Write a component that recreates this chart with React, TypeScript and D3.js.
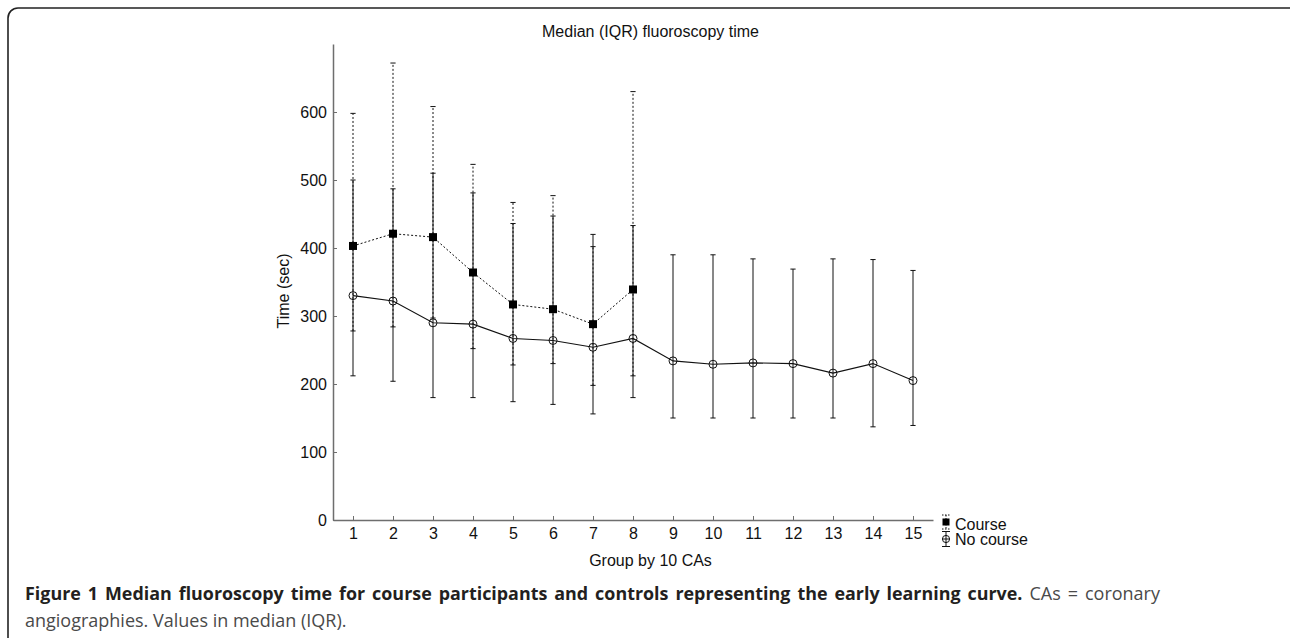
import React, { useEffect, useRef } from 'react';
import * as d3 from 'd3';

// group index (by 10 coronary angiographies)
const groups = [1, 2, 3, 4, 5, 6, 7, 8, 9, 10, 11, 12, 13, 14, 15];

// Course participants (groups 1-8)
const courseMedian = [403, 421, 416, 364, 317, 310, 288, 339];
const courseQ1 = [278, 284, 297, 252, 228, 230, 198, 212];
const courseQ3 = [598, 672, 608, 523, 467, 477, 402, 630];

// Controls (no course)
const noCourseMedian = [330, 322, 290, 288, 267, 264, 254, 267, 234, 229, 231, 230, 216, 230, 205];
const noCourseQ1 = [212, 204, 180, 180, 174, 170, 156, 180, 150, 150, 150, 150, 150, 137, 139];
const noCourseQ3 = [500, 487, 510, 481, 436, 447, 420, 433, 390, 390, 384, 369, 384, 383, 367];

const yTicks = [0, 100, 200, 300, 400, 500, 600];
const legendLabels = ['Course', 'No course'];

const chartTitle = 'Median (IQR) fluoroscopy time';
const yLabel = 'Time (sec)';
const xLabel = 'Group by 10 CAs';
const captionBold = 'Figure 1 Median fluoroscopy time for course participants and controls representing the early learning curve.';
const captionRest1 = ' CAs = coronary';
const captionRest2 = 'angiographies. Values in median (IQR).';

const W = 1290;
const H = 638;

const App = () => {
  const svgRef = useRef<SVGSVGElement>(null);

  useEffect(() => {
    const svg = d3.select(svgRef.current);
    svg.selectAll('*').remove();

    const font = '"Liberation Sans", Arial, sans-serif';
    const axisColor = '#6e6e6e';
    const ink = '#111';

    // figure frame (right and bottom edges fall outside the picture)
    svg.append('rect')
      .attr('x', 8).attr('y', 8)
      .attr('width', 1300).attr('height', 700)
      .attr('rx', 10)
      .attr('fill', 'none')
      .attr('stroke', '#222')
      .attr('stroke-width', 1.6);

    // scales
    const x = d3.scaleLinear().domain([0.5, 15.5]).range([333, 933]);
    const y = d3.scaleLinear().domain([0, 700]).range([520, 44]);

    // axes
    const yAxis = svg.append('g')
      .attr('transform', `translate(${x(0.5)},0)`)
      .call(d3.axisLeft(y).tickValues(yTicks).tickSizeInner(-4).tickSizeOuter(0).tickPadding(6));
    const xAxis = svg.append('g')
      .attr('transform', `translate(0,${y(0)})`)
      .call(d3.axisBottom(x).tickValues(groups).tickFormat(d3.format('d')).tickSizeInner(-4).tickSizeOuter(0).tickPadding(7.6));

    [yAxis, xAxis].forEach(a => {
      a.select('.domain').attr('stroke', axisColor).attr('stroke-width', 1.5);
      a.selectAll('.tick line').attr('stroke', axisColor).attr('stroke-width', 1);
      a.selectAll('.tick text')
        .attr('fill', ink)
        .attr('font-family', font)
        .attr('font-size', '16px');
    });

    // title and axis labels
    svg.append('text')
      .attr('x', 650.5).attr('y', 37)
      .attr('text-anchor', 'middle')
      .attr('font-family', font).attr('font-size', '16px').attr('fill', ink)
      .text(chartTitle);

    svg.append('text')
      .attr('transform', 'translate(289,291) rotate(-90)')
      .attr('text-anchor', 'middle')
      .attr('font-family', font).attr('font-size', '16px').attr('fill', ink)
      .text(yLabel);

    svg.append('text')
      .attr('x', 650.5).attr('y', 566)
      .attr('text-anchor', 'middle')
      .attr('font-family', font).attr('font-size', '16px').attr('fill', ink)
      .text(xLabel);

    const cap = 2.6;
    const dots = '2,2';

    // course error bars (dotted)
    const courseG = svg.append('g').attr('stroke', ink).attr('stroke-width', 1).attr('fill', 'none');
    courseMedian.forEach((_, i) => {
      const cx = x(groups[i]);
      courseG.append('line')
        .attr('x1', cx).attr('x2', cx)
        .attr('y1', y(courseQ1[i])).attr('y2', y(courseQ3[i]))
        .attr('stroke-dasharray', dots);
      [courseQ1[i], courseQ3[i]].forEach(v => {
        courseG.append('line')
          .attr('x1', cx - cap).attr('x2', cx + cap)
          .attr('y1', y(v)).attr('y2', y(v));
      });
    });

    // no course error bars (solid)
    const ncG = svg.append('g').attr('stroke', ink).attr('stroke-width', 1).attr('fill', 'none');
    noCourseMedian.forEach((_, i) => {
      const cx = x(groups[i]);
      ncG.append('line')
        .attr('x1', cx).attr('x2', cx)
        .attr('y1', y(noCourseQ1[i])).attr('y2', y(noCourseQ3[i]));
      [noCourseQ1[i], noCourseQ3[i]].forEach(v => {
        ncG.append('line')
          .attr('x1', cx - cap).attr('x2', cx + cap)
          .attr('y1', y(v)).attr('y2', y(v));
      });
    });

    // median lines
    const line = d3.line<number>()
      .x((_, i) => x(groups[i]))
      .y(d => y(d));

    svg.append('path')
      .datum(courseMedian)
      .attr('d', line)
      .attr('fill', 'none')
      .attr('stroke', ink)
      .attr('stroke-width', 1)
      .attr('stroke-dasharray', dots);

    svg.append('path')
      .datum(noCourseMedian)
      .attr('d', line)
      .attr('fill', 'none')
      .attr('stroke', ink)
      .attr('stroke-width', 1.1);

    // markers
    const sq = 8;
    svg.append('g').selectAll('rect')
      .data(courseMedian)
      .enter().append('rect')
      .attr('x', (_, i) => x(groups[i]) - sq / 2)
      .attr('y', d => y(d) - sq / 2)
      .attr('width', sq).attr('height', sq)
      .attr('fill', '#000');

    svg.append('g').selectAll('circle')
      .data(noCourseMedian)
      .enter().append('circle')
      .attr('cx', (_, i) => x(groups[i]))
      .attr('cy', d => y(d))
      .attr('r', 4)
      .attr('fill', 'none')
      .attr('stroke', ink)
      .attr('stroke-width', 1);

    // legend
    const lx = 946;
    const leg = svg.append('g');
    // Course entry
    leg.append('line').attr('x1', lx).attr('x2', lx).attr('y1', 515).attr('y2', 529)
      .attr('stroke', ink).attr('stroke-dasharray', '1.5,1.5');
    [515, 529].forEach(v => leg.append('line')
      .attr('x1', lx - 4).attr('x2', lx + 4).attr('y1', v).attr('y2', v)
      .attr('stroke', ink).attr('stroke-dasharray', '1.5,1.5'));
    leg.append('rect').attr('x', lx - 3.5).attr('y', 518.5).attr('width', 7).attr('height', 7).attr('fill', '#000');
    // No course entry
    leg.append('line').attr('x1', lx).attr('x2', lx).attr('y1', 531.5).attr('y2', 546.5).attr('stroke', ink);
    [531.5, 546.5].forEach(v => leg.append('line')
      .attr('x1', lx - 4).attr('x2', lx + 4).attr('y1', v).attr('y2', v).attr('stroke', ink));
    leg.append('circle').attr('cx', lx).attr('cy', 539).attr('r', 3.6).attr('fill', '#fff').attr('stroke', ink);
    leg.append('line').attr('x1', lx).attr('x2', lx).attr('y1', 535).attr('y2', 543).attr('stroke', ink);
    leg.append('line').attr('x1', lx - 3.6).attr('x2', lx + 3.6).attr('y1', 539).attr('y2', 539).attr('stroke', ink);

    leg.selectAll('text.leg')
      .data(legendLabels)
      .enter().append('text')
      .attr('class', 'leg')
      .attr('x', 955)
      .attr('y', (_, i) => 529.5 + i * 15)
      .attr('font-family', font).attr('font-size', '16px').attr('fill', ink)
      .text(d => d);

    // caption (first line lightly justified)
    const capFont = '"Open Sans", "Noto Sans", sans-serif';
    const c1 = svg.append('text')
      .attr('x', 25).attr('y', 600)
      .attr('font-family', capFont);
    c1.append('tspan').attr('font-weight', 700).attr('font-size', '17.9px').attr('fill', '#231f20').text(captionBold);
    c1.append('tspan').attr('font-size', '18px').attr('fill', '#4a4a4a').text(captionRest1);

    const node = c1.node() as SVGTextElement;
    const len = node.getComputedTextLength();
    const spaces = (captionBold + captionRest1).split(' ').length - 1;
    const target = 1160 - 25;
    if (len < target && spaces > 0) c1.attr('word-spacing', Math.min(3, (target - len) / spaces));

    svg.append('text')
      .attr('x', 25).attr('y', 627)
      .attr('font-family', capFont).attr('font-size', '18px')
      .attr('fill', '#4a4a4a')
      .text(captionRest2);
  }, []);

  return (
    <svg
      ref={svgRef}
      width={W}
      height={H}
      style={{ position: 'absolute', left: 0, top: 0, background: '#fff', display: 'block' }}
    />
  );
};

export default App;
